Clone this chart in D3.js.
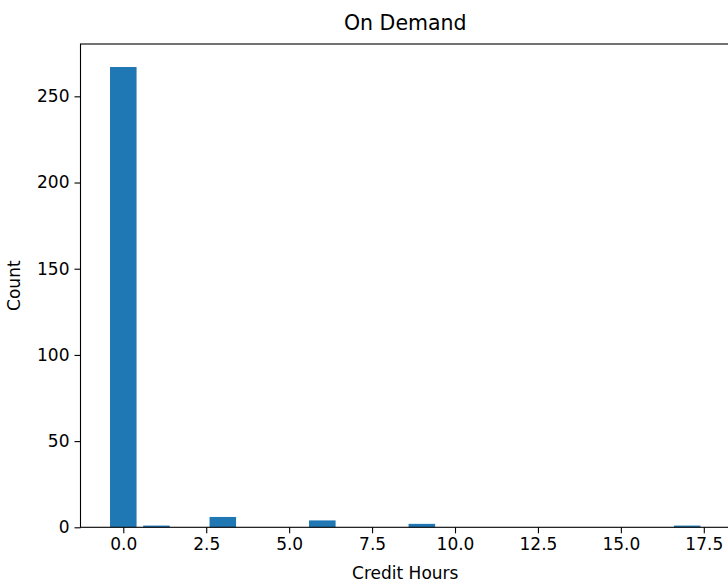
<!DOCTYPE html>
<html>
<head>
<meta charset="utf-8">
<script src="https://cdn.jsdelivr.net/npm/d3@7"></script>
<style>
    body { margin: 0; background: #fff; }
    text { font-family: "DejaVu Sans", sans-serif; fill: #000; }
</style>
</head>
<body>
<div id="chart"></div>
<script>
// values
var creditHours = [0, 1, 3, 6, 9, 17];
var counts = [267, 1, 6, 4, 2, 1];
var xTicks = [0, 2.5, 5, 7.5, 10, 12.5, 15, 17.5];
var yTicks = [0, 50, 100, 150, 200, 250];
var barWidth = 0.8;

function init() {

    var width = 728;
    var height = 585;

    var left = 80.5, right = 730, top = 44, bottom = 527.3;

    // matplotlib style 5% margins
    var xmin = d3.min(creditHours) - barWidth / 2;
    var xmax = d3.max(creditHours) + barWidth / 2;
    var pad = (xmax - xmin) * 0.05;

    var x = d3.scaleLinear()
        .domain([xmin - pad, xmax + pad])
        .range([left, right]);

    var y = d3.scaleLinear()
        .domain([0, d3.max(counts) * 1.05])
        .range([bottom, top]);

    var svg = d3.select("#chart")
        .append("svg")
        .attr("width", width)
        .attr("height", height);

    var data = creditHours.map(function (h, i) {
        return { hours: h, count: counts[i] };
    });

    svg.selectAll(".bar")
        .data(data)
        .enter()
        .append("rect")
        .attr("class", "bar")
        .attr("x", function (d) { return x(d.hours - barWidth / 2); })
        .attr("width", function (d) { return x(d.hours + barWidth / 2) - x(d.hours - barWidth / 2); })
        .attr("y", function (d) { return y(d.count); })
        .attr("height", function (d) { return y(0) - y(d.count); })
        .style("fill", "#1f77b4");

    // axes
    var xAxis = d3.axisBottom(x)
        .tickValues(xTicks)
        .tickFormat(d3.format(".1f"))
        .tickSizeInner(6)
        .tickSizeOuter(0)
        .tickPadding(5);

    var yAxis = d3.axisLeft(y)
        .tickValues(yTicks)
        .tickFormat(d3.format("d"))
        .tickSizeInner(6)
        .tickSizeOuter(0)
        .tickPadding(5);

    var gx = svg.append("g")
        .attr("transform", "translate(0," + bottom + ")")
        .call(xAxis);

    var gy = svg.append("g")
        .attr("transform", "translate(" + left + ",0)")
        .call(yAxis);

    [gx, gy].forEach(function (g) {
        g.select(".domain").remove();
        g.selectAll(".tick line").attr("stroke", "#000").attr("stroke-width", 1.1);
        g.selectAll(".tick text")
            .style("font-size", "17px")
            .style("font-family", "'DejaVu Sans', sans-serif")
            .attr("fill", "#262626");
    });

    // spines
    svg.append("rect")
        .attr("x", left)
        .attr("y", top)
        .attr("width", right - left)
        .attr("height", bottom - top)
        .attr("fill", "none")
        .attr("stroke", "#000")
        .attr("stroke-width", 1.1);

    // title and labels
    svg.append("text")
        .attr("x", (left + right) / 2)
        .attr("y", 30)
        .attr("text-anchor", "middle")
        .style("font-size", "20.5px")
        .text("On Demand");

    svg.append("text")
        .attr("x", (left + right) / 2)
        .attr("y", 579)
        .attr("text-anchor", "middle")
        .style("font-size", "17px")
        .text("Credit Hours");

    svg.append("text")
        .attr("transform", "translate(20," + ((top + bottom) / 2) + ") rotate(-90)")
        .attr("text-anchor", "middle")
        .style("font-size", "17px")
        .text("Count");
}

window.onload = init;
</script>
</body>
</html>
